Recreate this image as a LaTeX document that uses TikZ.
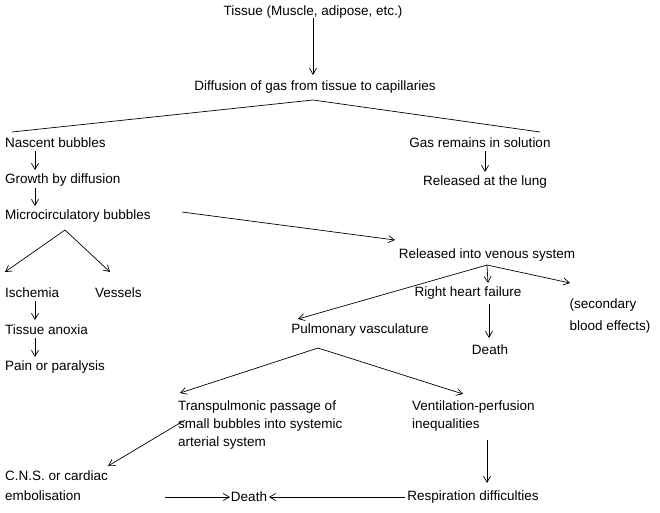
\documentclass[tikz,border=0pt]{standalone}
\usepackage{fontspec}
\setmainfont{Liberation Sans}
\usetikzlibrary{arrows.meta}
\begin{document}
\begin{tikzpicture}[x=1pt,y=-1pt,
  t/.style={inner sep=0pt,font=\fontsize{13.5}{18}\selectfont,align=left},
  a/.style={-{Straight Barb[length=6pt,width=7pt]},line width=0.7pt},
  l/.style={line width=0.7pt}]
\useasboundingbox (0,0) rectangle (660,512);
\node[t] (tis) at (313,12) {Tissue (Muscle, adipose, etc.)};
\node[t] (dif) at (315,87) {Diffusion of gas from tissue to capillaries};
\node[t,anchor=west] (nas) at (5,143) {Nascent bubbles};
\node[t,anchor=west] (gro) at (5,180) {Growth by diffusion};
\node[t,anchor=west] (mic) at (5,216) {Microcirculatory bubbles};
\node[t] (gas) at (480,143) {Gas remains in solution};
\node[t] (lung) at (485,182) {Released at the lung};
\node[t] (ven) at (487,255) {Released into venous system};
\node[t,anchor=west] (isc) at (5,293) {Ischemia};
\node[t,anchor=west] (ves) at (95,293) {Vessels};
\node[t,anchor=west] (ano) at (5,330) {Tissue anoxia};
\node[t,anchor=west] (pain) at (5,367) {Pain or paralysis};
\node[t] (rhf) at (468,293) {Right heart failure};
\node[t] (pul) at (360,330) {Pulmonary vasculature};
\node[t] (d1) at (490,350) {Death};
\node[t,align=left,font=\fontsize{13.5}{22}\selectfont] (sec) at (610,316) {(secondary\\blood effects)};
\node[t,anchor=north west] (tra) at (178,401) {Transpulmonic passage of\\small bubbles into systemic\\arterial system};
\node[t,anchor=north west] (vpi) at (412,401) {Ventilation-perfusion\\inequalities};
\node[t,anchor=north west,font=\fontsize{13.5}{20}\selectfont] (cns) at (5,471) {C.N.S. or cardiac\\embolisation};
\node[t] (d2) at (249,497) {Death};
\node[t] (res) at (473,497) {Respiration difficulties};

\coordinate (c1) at (313,100);
\coordinate (c2) at (65,230);
\coordinate (c3) at (487,265);
\coordinate (c4) at (318,348);
\draw[a] (tis) -- (313,75);
\draw[l] (12,132) -- (c1) -- (540,132);
\draw[a] (35,151) -- (35,170);
\draw[a] (35,188) -- (35,206);
\draw[a] (485,151) -- (485,172);
\draw[a] (182,212) -- (395,240);
\draw[a] (c2) -- (5,272);
\draw[a] (c2) -- (110,272);
\draw[a] (35,301) -- (35,320);
\draw[a] (35,338) -- (35,357);
\draw[a] (c3) -- (488,283);
\draw[a] (c3) -- (298,319);
\draw[a] (c3) -- (570,283);
\draw[a] (489,304) -- (489,338);
\draw[a] (c4) -- (180,393);
\draw[a] (c4) -- (463,394);
\draw[a] (185,420) -- (108,466);
\draw[a] (487,440) -- (487,483);
\draw[a] (165,497) -- (230,497);
\draw[a] (405,497) -- (269,497);
\end{tikzpicture}
\end{document}
